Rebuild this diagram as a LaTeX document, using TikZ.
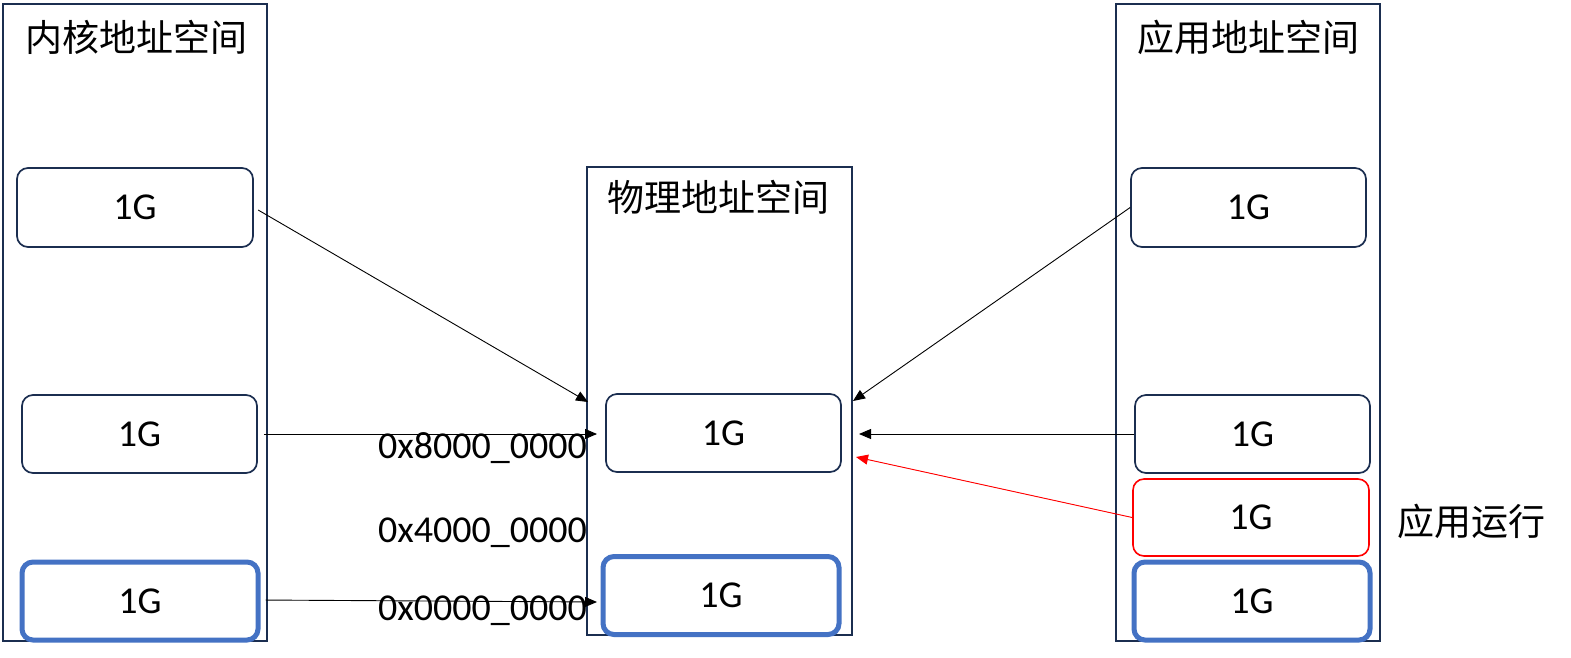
\documentclass[tikz,border=0pt]{standalone}
\usepackage{fontspec}
\setmainfont{Carlito}
\newfontfamily\cjk{Noto Sans CJK SC}
\usetikzlibrary{arrows.meta}
\definecolor{navy}{HTML}{1B2E50}
\definecolor{boxblue}{HTML}{4472C4}
\tikzset{
  space/.style={draw=navy, line width=1.8pt, fill=none},
  gbox/.style={draw=navy, line width=1.7pt, rounded corners=11pt, fill=white, inner sep=0pt,
    font=\fontsize{38}{40}\selectfont},
  bluebox/.style={gbox, draw=boxblue, line width=5pt},
  redbox/.style={gbox, draw=red, line width=1.6pt},
  title/.style={font=\cjk\fontsize{37}{40}\selectfont, inner sep=0pt},
  addr/.style={font=\fontsize{38}{40}\selectfont, inner sep=0pt},
  conn/.style={draw=black, line width=0.9pt, -{Triangle[length=12pt,width=10pt]}},
  redconn/.style={conn, draw=red, -{Triangle[length=12pt,width=10pt]}, fill=red},
}
\begin{document}
\begin{tikzpicture}[x=1pt,y=-1pt]
\fill[white] (0,0) rectangle (1571,657);
\useasboundingbox (0,0) rectangle (1571,657);
% outer spaces
\draw[space] (3,4) rectangle (267,641);
\draw[space] (587,167) rectangle (852,635);
\draw[space] (1116,4) rectangle (1380,641);
% titles
\node[title] (tk) at (136,37) {内核地址空间};
\node[title] (tp) at (718,197) {物理地址空间};
\node[title] (ta) at (1248,37) {应用地址空间};
% kernel boxes
\node[gbox, minimum width=236pt, minimum height=79pt] (k1) at (135,207.5) {1G};
\node[gbox, minimum width=235pt, minimum height=78pt] (k2) at (139.5,434) {1G};
\node[bluebox, minimum width=236pt, minimum height=78pt] (k3) at (140,601) {1G};
% physical boxes
\node[gbox, minimum width=235pt, minimum height=78pt] (p1) at (723.5,433) {1G};
\node[bluebox, minimum width=236pt, minimum height=78pt] (p2) at (721,595.5) {1G};
% app boxes
\node[gbox, minimum width=235pt, minimum height=79pt] (a1) at (1248.5,207.5) {1G};
\node[gbox, minimum width=235pt, minimum height=78pt] (a2) at (1252.5,434) {1G};
\node[redbox, minimum width=236pt, minimum height=77pt] (a3) at (1251,517.5) {1G};
\node[bluebox, minimum width=236pt, minimum height=78pt] (a4) at (1252,601) {1G};
% labels
\node[addr] (h8) at (482.5,448) {0x8000\_0000};
\node[addr] (h4) at (482.5,533) {0x4000\_0000};
\node[addr] (h0) at (482.5,611) {0x0000\_0000};
\node[title] (run) at (1471,521) {应用运行};
% arrow tips
\coordinate (t1) at (588,402);
\coordinate (t2) at (597,434);
\coordinate (t3) at (597,602);
\coordinate (t4) at (853,401);
\coordinate (t5) at (859,434);
\coordinate (t6) at (856,457);
% connectors
\draw[conn, shorten <=5pt] (k1.east) -- (t1);
\draw[conn, shorten <=6pt] (k2.east) -- (t2);
\draw[conn, shorten <=5pt] ([yshift=1pt]k3.east) -- (t3);
\draw[conn] (a1.west) -- (t4);
\draw[conn] (a2.west) -- (t5);
\draw[redconn] (a3.west) -- (t6);
\end{tikzpicture}
\end{document}
